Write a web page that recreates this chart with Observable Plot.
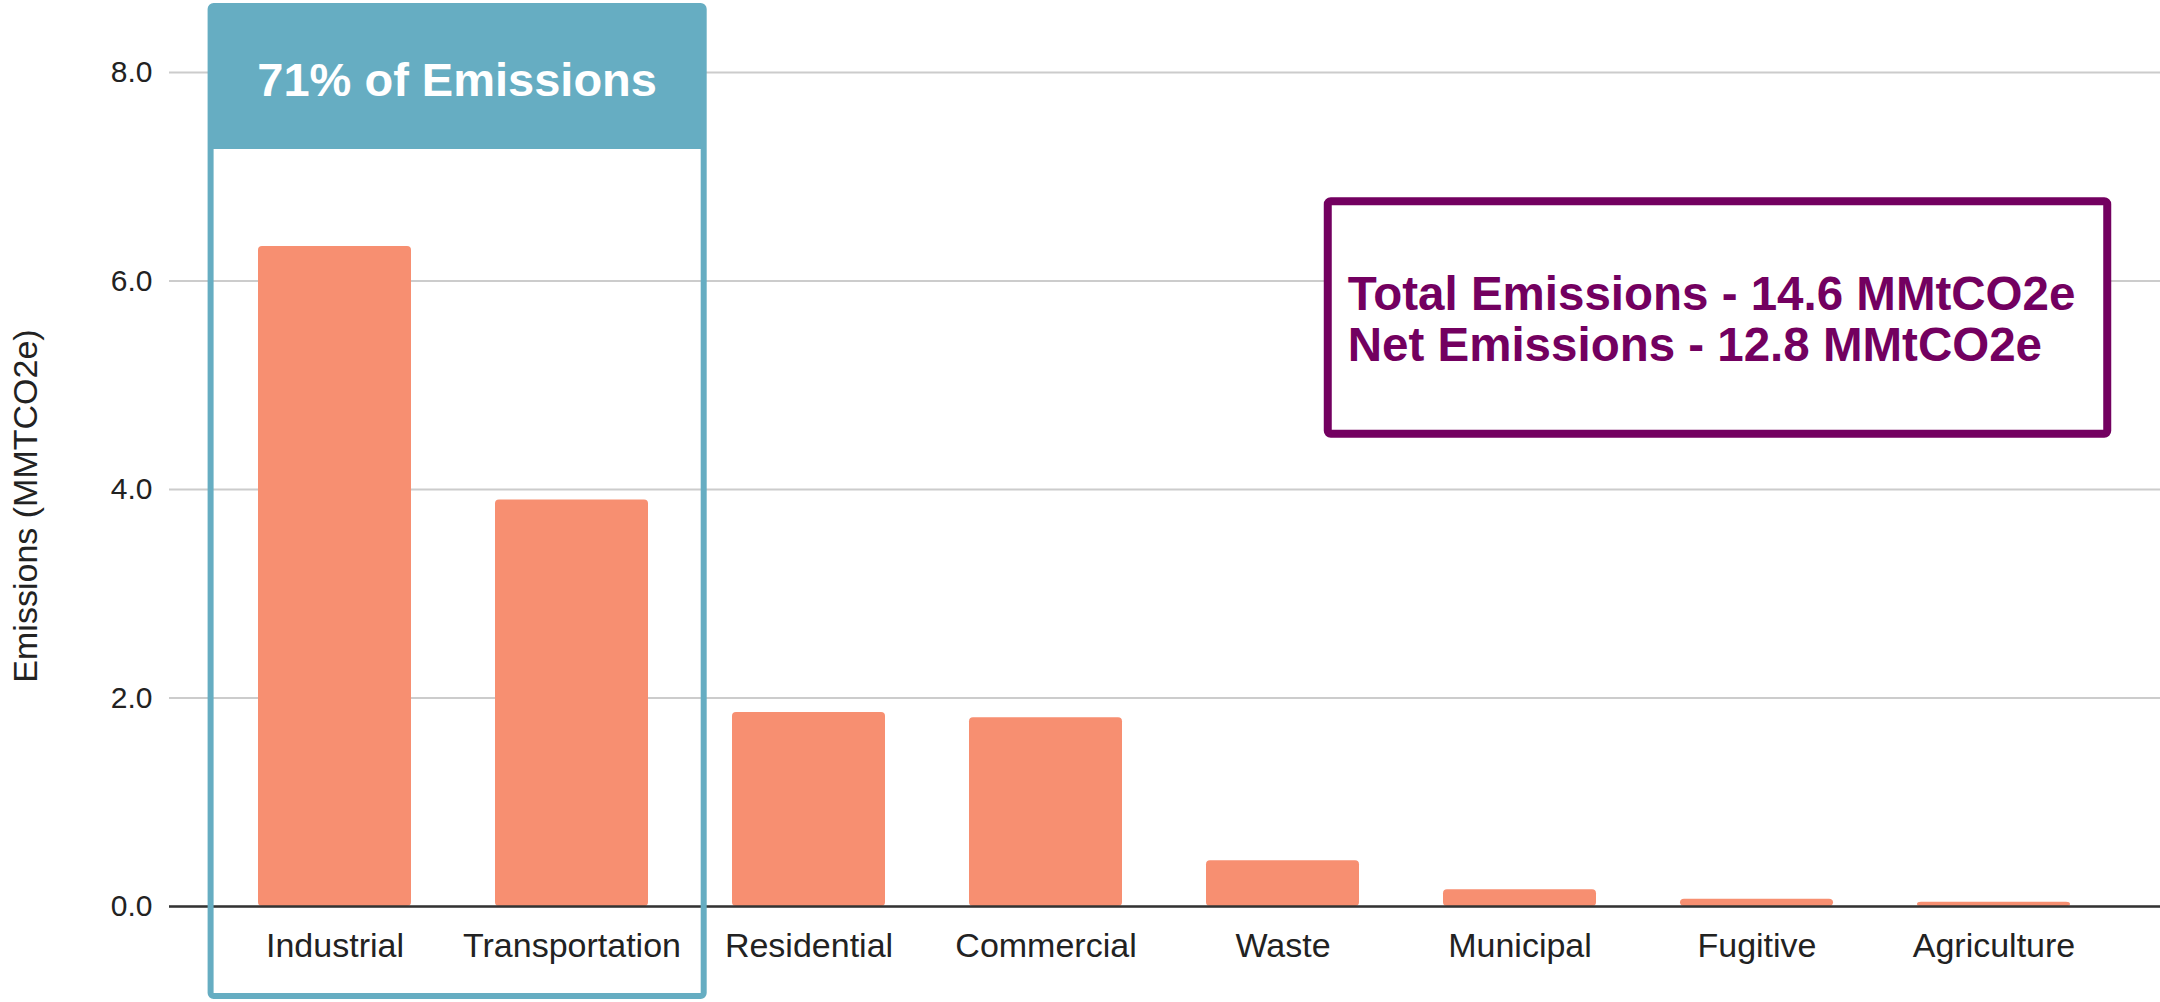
<!DOCTYPE html>
<html>
<head>
<meta charset="utf-8">
<script src="https://cdn.jsdelivr.net/npm/d3@7"></script>
<script src="https://cdn.jsdelivr.net/npm/@observablehq/plot@0.6"></script>
<style>
html, body { margin: 0; padding: 0; background: #fff; }
#chart svg { display: block; }
</style>
</head>
<body>
<div id="chart"></div>
<script>
// ---- data ----
const categories = ["Industrial", "Transportation", "Residential", "Commercial", "Waste", "Municipal", "Fugitive", "Agriculture"];
const emissions = [6.33, 3.9, 1.86, 1.81, 0.44, 0.16, 0.07, 0.04];
const yTicks = [0, 2, 4, 6, 8];
const yTitle = "Emissions (MMTCO2e)";
const highlightCategories = ["Industrial", "Transportation"];
const highlightLabel = "71% of Emissions";
const summaryLines = ["Total Emissions - 14.6 MMtCO2e", "Net Emissions - 12.8 MMtCO2e"];

const data = categories.map((c, i) => ({category: c, value: emissions[i]}));

const FONT = "'Liberation Sans', Arial, Helvetica, sans-serif";
const TEAL = "#66adc2";
const SALMON = "#f78f71";
const PURPLE = "#730060";
const NS = "http://www.w3.org/2000/svg";

function el(name, attrs, text) {
  const e = document.createElementNS(NS, name);
  for (const k in attrs) e.setAttribute(k, attrs[k]);
  if (text != null) e.textContent = text;
  return e;
}

// custom annotation mark: highlight box, summary box, y title
function annotations(index, scales, values, dims) {
  const x = scales.x, y = scales.y;
  const step = x.step ? x.step() : (x(categories[1]) - x(categories[0]));
  const bw = x.bandwidth ? x.bandwidth() : step * 0.65;
  const g = el("g", {});

  // y-axis title
  g.appendChild(el("text", {
    transform: `translate(37,${(y(8) + y(0)) / 2 + 17}) rotate(-90)`,
    "text-anchor": "middle", "font-size": 34, fill: "#222", "font-family": FONT
  }, yTitle));

  // teal highlight box
  const hx1 = x(highlightCategories[0]) - 0.2 * step;
  const hx2 = x(highlightCategories[highlightCategories.length - 1]) + bw + 0.235 * step;
  const hTop = 6, hBottom = dims.height - 6, hHeader = 149;
  g.appendChild(el("rect", {x: hx1, y: hTop, width: hx2 - hx1, height: hHeader - hTop, fill: TEAL}));
  g.appendChild(el("rect", {x: hx1, y: hTop, width: hx2 - hx1, height: hBottom - hTop,
    fill: "none", stroke: TEAL, "stroke-width": 6, rx: 3}));
  g.appendChild(el("text", {x: (hx1 + hx2) / 2, y: 96, "text-anchor": "middle",
    "font-size": 47, "font-weight": "bold", fill: "#fff", "font-family": FONT}, highlightLabel));

  // purple summary box
  const fw = dims.width - dims.marginLeft - dims.marginRight;
  const px1 = dims.marginLeft + 0.582 * fw;
  const px2 = dims.marginLeft + 0.9735 * fw;
  const py1 = y(6.76), py2 = y(4.53);
  g.appendChild(el("rect", {x: px1, y: py1, width: px2 - px1, height: py2 - py1,
    fill: "#fff", stroke: PURPLE, "stroke-width": 8, rx: 3}));
  summaryLines.forEach((line, i) => {
    g.appendChild(el("text", {x: px1 + 20, y: py1 + 109 + i * 51, "text-anchor": "start",
      "font-size": 47.5, "font-weight": "bold", fill: PURPLE, "font-family": FONT}, line));
  });
  return g;
}

const chart = Plot.plot({
  width: 2160,
  height: 1002,
  marginLeft: 169,
  marginRight: 0,
  marginTop: 72,
  marginBottom: 96,
  style: {fontFamily: FONT, fontSize: "34px", color: "#222", background: "#fff"},
  x: {domain: categories, paddingInner: 0.353, paddingOuter: 0.36, label: null},
  y: {domain: [0, 8], label: null},
  marks: [
    Plot.gridY(yTicks, {stroke: "#cccccc", strokeOpacity: 1, strokeWidth: 2}),
    Plot.barY(data, {x: "category", y: "value", fill: SALMON, rx: 4}),
    Plot.ruleY([0], {stroke: "#333", strokeWidth: 2.5}),
    Plot.axisY(yTicks, {tickSize: 0, tickPadding: 17, fontSize: 30, tickFormat: d3.format(".1f"), label: null}),
    Plot.axisX({tickSize: 0, tickPadding: 26, fontSize: 34, label: null}),
    annotations
  ]
});

document.getElementById("chart").appendChild(chart);
</script>
</body>
</html>
